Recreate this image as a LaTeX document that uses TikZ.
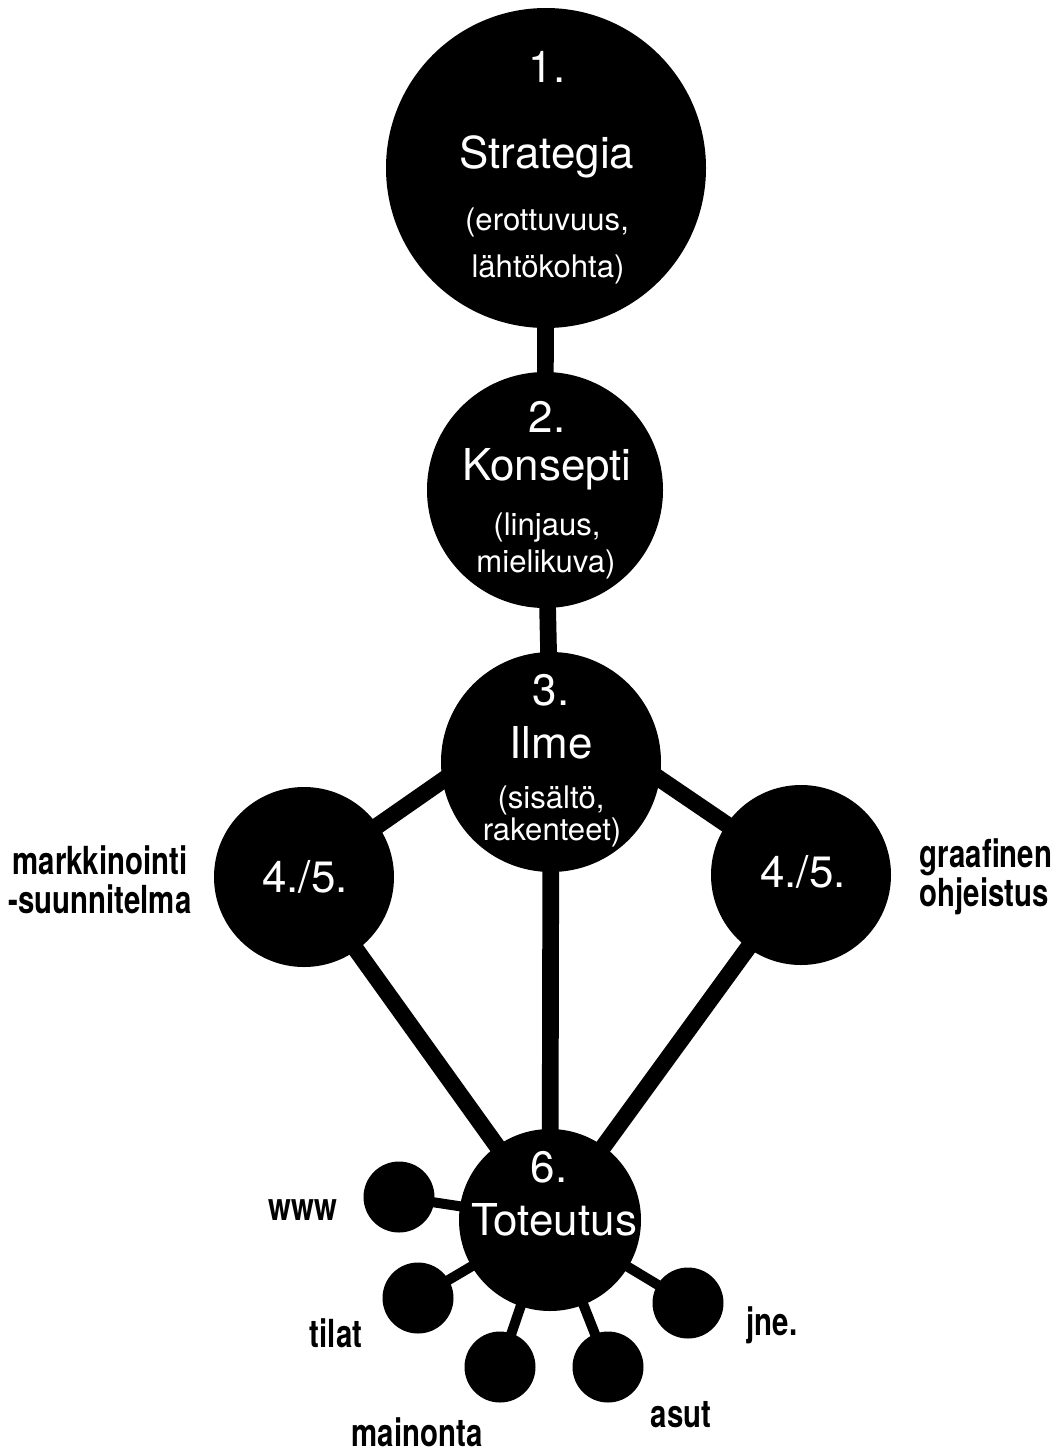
\documentclass[tikz,border=0pt]{standalone}
\usepackage{fontspec}
\setmainfont{TeX Gyre Heros}
\newfontfamily\condfont[FakeStretch=0.76]{TeX Gyre Heros}

\begin{document}
\begin{tikzpicture}[x=0.2mm,y=-0.2mm,
    bigdot/.style={circle,fill=black,inner sep=0pt},
    stem/.style={line width=9.5pt},
    twig/.style={line width=5.7pt},
    bigtxt/.style={text=white,anchor=base,font=\fontsize{25}{25}\selectfont},
    smalltxt/.style={text=white,anchor=base,font=\fontsize{17.7}{17.7}\selectfont},
    tagtxt/.style={inner sep=1pt,font=\condfont\bfseries\fontsize{22}{22}\selectfont}]
    \useasboundingbox (0,0) rectangle (1059,1455);

    % main circles
    \node[bigdot,minimum size=64mm] (c1) at (546,168) {};
    \node[bigdot,minimum size=47.2mm] (c2) at (545,490) {};
    \node[bigdot,minimum size=44mm] (c3) at (551,762) {};
    \node[bigdot,minimum size=36mm] (l45) at (304,877) {};
    \node[bigdot,minimum size=36mm] (r45) at (801,875) {};
    \node[bigdot,minimum size=36.4mm] (c6) at (550,1220) {};
    \coordinate (c3top) at (551,705);

    % main connectors
    \draw[stem] (c1.center) -- (c2.center) -- (c3.center) -- (c6.center);
    \draw[stem] (c3top) -- (l45.center) -- (c6.center);
    \draw[stem] (c3top) -- (r45.center) -- (c6.center);

    % small circles round 6.
    \foreach \n/\x/\y in {www/399/1197,tilat/418/1298,mainonta/500/1367,asut/608/1367,jne/688/1303} {
        \node[bigdot,minimum size=14.2mm] (\n) at (\x,\y) {};
        \draw[twig] (\n.center) -- (c6.center);
      }

    % texts in the circles
    \node[bigtxt] (t1a) at (547,82) {1.};
    \node[bigtxt] (t1b) at (547,168) {Strategia};
    \node[smalltxt] (t1c) at (547,230) {(erottuvuus,};
    \node[smalltxt] (t1d) at (548,277) {lähtökohta)};
    \node[bigtxt] (t2a) at (547,432) {2.};
    \node[bigtxt] (t2b) at (547,480) {Konsepti};
    \node[smalltxt] (t2c) at (547,535) {(linjaus,};
    \node[smalltxt] (t2d) at (546,572) {mielikuva)};
    \node[bigtxt] (t3a) at (551,705) {3.};
    \node[bigtxt] (t3b) at (551,758) {Ilme};
    \node[smalltxt] (t3c) at (551,808) {(sisältö,};
    \node[smalltxt] (t3d) at (552,840) {rakenteet)};
    \node[bigtxt] (t45l) at (305,892) {4./5.};
    \node[bigtxt] (t45r) at (803,887) {4./5.};
    \node[bigtxt] (t6a) at (549,1182) {6.};
    \node[bigtxt] (t6b) at (554,1235) {Toteutus};

    % outside labels
    \node[tagtxt,align=center] (mark) at (100,880) {markkinointi\\-suunnitelma};
    \node[tagtxt,align=left] (graaf) at (986,877) {graafinen\\ohjeistus};
    \node[tagtxt,anchor=base] (lwww) at (303,1220) {www};
    \node[tagtxt,anchor=base] (ltilat) at (336,1347) {tilat};
    \node[tagtxt,anchor=base] (lmain) at (417,1446) {mainonta};
    \node[tagtxt,anchor=base] (lasut) at (681,1427) {asut};
    \node[tagtxt,anchor=base] (ljne) at (772,1335) {jne.};
  \end{tikzpicture}
\end{document}
